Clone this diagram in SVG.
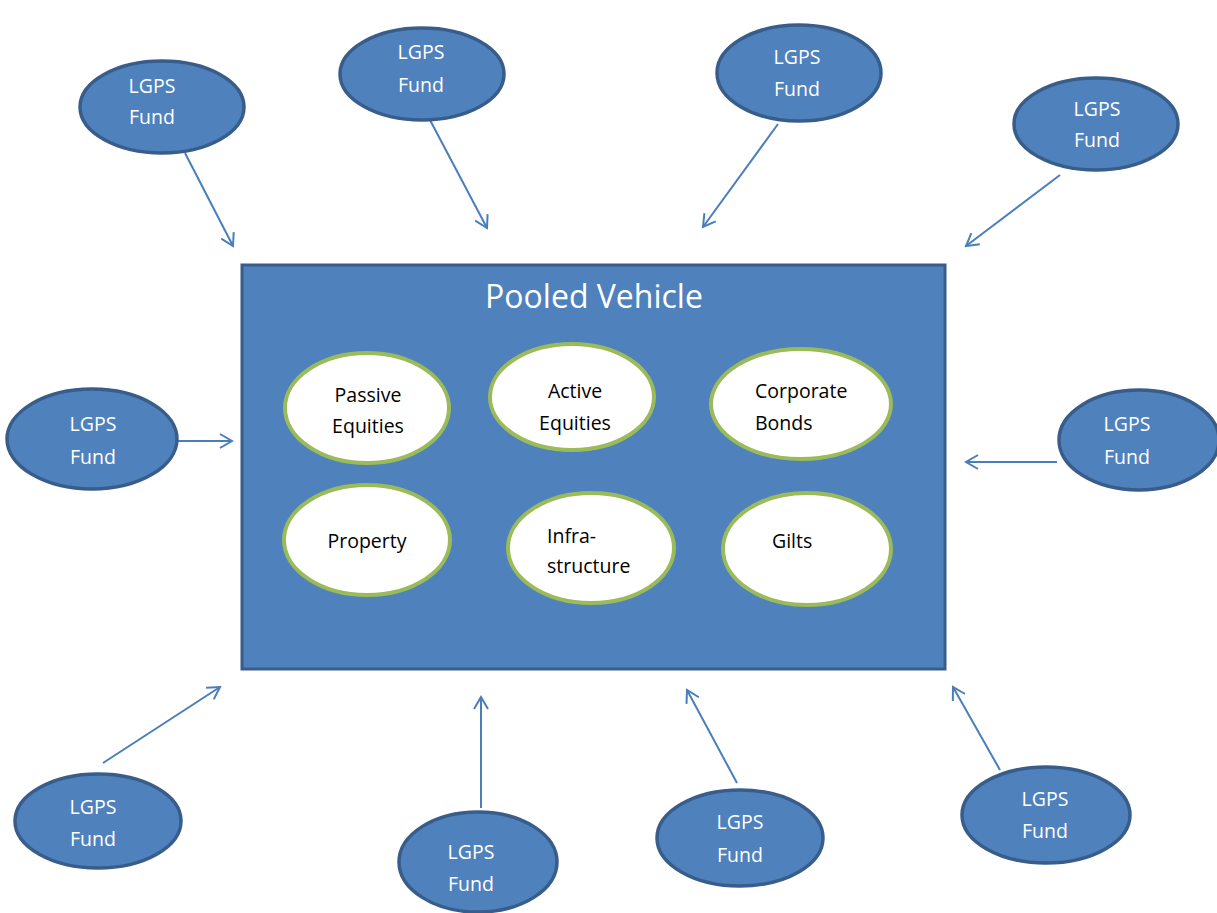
<svg xmlns="http://www.w3.org/2000/svg" width="1217" height="913" viewBox="0 0 1217 913">
<defs>
<marker id="ah" viewBox="0 0 16 16" refX="14" refY="8" markerWidth="16" markerHeight="16" markerUnits="userSpaceOnUse" orient="auto">
<path d="M2,1 L14,8 L2,15" fill="none" stroke="#4a7ebb" stroke-width="2"/>
</marker>
<style>
.fund{fill:#4f81bd;stroke:#385d8a;stroke-width:3.5}
.ft{font-family:"Open Sans","Liberation Sans",sans-serif;font-size:19.5px;fill:#ffffff;text-anchor:middle}
.inner{fill:#ffffff;stroke:#9bbb59;stroke-width:4}
.it{font-family:"Open Sans","Liberation Sans",sans-serif;font-size:19.5px;fill:#000000}
.c{stroke:#4a7ebb;stroke-width:2;fill:none;marker-end:url(#ah)}
</style>
</defs>
<rect width="1217" height="913" fill="#ffffff"/>
<g id="pool">
<rect x="242" y="265" width="703" height="404" fill="#4f81bd" stroke="#385d8a" stroke-width="3"/>
<text x="594" y="308" font-family="Open Sans, Liberation Sans, sans-serif" font-size="32" fill="#ffffff" text-anchor="middle">Pooled Vehicle</text>
</g>
<g id="passive"><ellipse class="inner" cx="367" cy="408" rx="82" ry="55"/><text class="it" x="368" y="402" text-anchor="middle">Passive</text><text class="it" x="368" y="433" text-anchor="middle">Equities</text></g>
<g id="active"><ellipse class="inner" cx="572" cy="397" rx="82" ry="53"/><text class="it" x="575" y="398" text-anchor="middle">Active</text><text class="it" x="575" y="430" text-anchor="middle">Equities</text></g>
<g id="corporate"><ellipse class="inner" cx="801" cy="404" rx="90" ry="55"/><text class="it" x="755" y="398">Corporate</text><text class="it" x="755" y="430">Bonds</text></g>
<g id="property"><ellipse class="inner" cx="367" cy="540" rx="83" ry="55"/><text class="it" x="367" y="548" text-anchor="middle">Property</text></g>
<g id="infra"><ellipse class="inner" cx="591" cy="548" rx="83" ry="55"/><text class="it" x="547" y="543">Infra-</text><text class="it" x="547" y="573">structure</text></g>
<g id="gilts"><ellipse class="inner" cx="807" cy="549" rx="84" ry="56"/><text class="it" x="772" y="548">Gilts</text></g>
<g id="connectors">
<line class="c" x1="185" y1="153" x2="233" y2="246"/>
<line class="c" x1="430" y1="120" x2="487" y2="228"/>
<line class="c" x1="778" y1="124" x2="703" y2="227"/>
<line class="c" x1="1060" y1="175" x2="966" y2="246"/>
<line class="c" x1="177" y1="441" x2="232" y2="441"/>
<line class="c" x1="1057" y1="462" x2="966" y2="462"/>
<line class="c" x1="103" y1="763" x2="220" y2="687"/>
<line class="c" x1="481" y1="808" x2="481" y2="697"/>
<line class="c" x1="737" y1="783" x2="687" y2="690"/>
<line class="c" x1="1000" y1="770" x2="953" y2="687"/>
</g>
<g id="fund1"><ellipse class="fund" cx="162" cy="107" rx="82" ry="46"/><text class="ft" x="152" y="93">LGPS</text><text class="ft" x="152" y="124">Fund</text></g>
<g id="fund2"><ellipse class="fund" cx="422" cy="74" rx="82" ry="46"/><text class="ft" x="421" y="59">LGPS</text><text class="ft" x="421" y="92">Fund</text></g>
<g id="fund3"><ellipse class="fund" cx="799" cy="73" rx="82" ry="48"/><text class="ft" x="797" y="64">LGPS</text><text class="ft" x="797" y="96">Fund</text></g>
<g id="fund4"><ellipse class="fund" cx="1096" cy="124" rx="82" ry="46"/><text class="ft" x="1097" y="116">LGPS</text><text class="ft" x="1097" y="147">Fund</text></g>
<g id="fund5"><ellipse class="fund" cx="92" cy="439" rx="85" ry="50"/><text class="ft" x="93" y="431">LGPS</text><text class="ft" x="93" y="464">Fund</text></g>
<g id="fund6"><ellipse class="fund" cx="1139" cy="440" rx="80" ry="50"/><text class="ft" x="1127" y="431">LGPS</text><text class="ft" x="1127" y="464">Fund</text></g>
<g id="fund7"><ellipse class="fund" cx="98" cy="821" rx="83" ry="47"/><text class="ft" x="93" y="814">LGPS</text><text class="ft" x="93" y="846">Fund</text></g>
<g id="fund8"><ellipse class="fund" cx="478" cy="862" rx="79" ry="50"/><text class="ft" x="471" y="859">LGPS</text><text class="ft" x="471" y="891">Fund</text></g>
<g id="fund9"><ellipse class="fund" cx="740" cy="838" rx="83" ry="48"/><text class="ft" x="740" y="829">LGPS</text><text class="ft" x="740" y="862">Fund</text></g>
<g id="fund10"><ellipse class="fund" cx="1046" cy="815" rx="84" ry="48"/><text class="ft" x="1045" y="806">LGPS</text><text class="ft" x="1045" y="838">Fund</text></g>
</svg>
